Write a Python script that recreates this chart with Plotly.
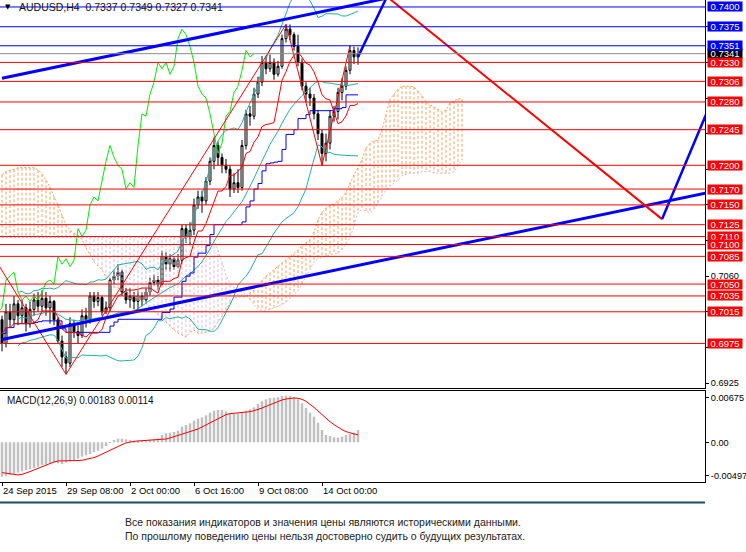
import plotly.graph_objects as go
import pandas as pd

# ---------------- data ----------------
bars = list(range(90))
closes = [0.6975, 0.7015, 0.7005, 0.7025, 0.7010, 0.7020, 0.7000, 0.7018, 0.7030, 0.7022,
          0.7032, 0.7020, 0.7028, 0.7005, 0.6978, 0.6958, 0.6950, 0.7000, 0.6990, 0.6985,
          0.7010, 0.7005, 0.7035, 0.7028, 0.7033, 0.7015, 0.7020, 0.7055, 0.7060, 0.7065,
          0.7040, 0.7030, 0.7035, 0.7028, 0.7035, 0.7030, 0.7040, 0.7052, 0.7055, 0.7050,
          0.7085, 0.7075, 0.7082, 0.7072, 0.7080, 0.7120, 0.7110, 0.7118, 0.7150, 0.7160,
          0.7155, 0.7180, 0.7205, 0.7225, 0.7210, 0.7200, 0.7195, 0.7170, 0.7178, 0.7172,
          0.7225, 0.7265, 0.7262, 0.7290, 0.7305, 0.7330, 0.7322, 0.7330, 0.7315, 0.7325,
          0.7360, 0.7372, 0.7365, 0.7350, 0.7330, 0.7300, 0.7290, 0.7285, 0.7265, 0.7240,
          0.7215, 0.7228, 0.7262, 0.7268, 0.7292, 0.7300, 0.7320, 0.7345, 0.7337, 0.7341]
highs = [0.7010, 0.7025, 0.7025, 0.7035, 0.7030, 0.7030, 0.7025, 0.7028, 0.7038, 0.7040,
         0.7042, 0.7040, 0.7035, 0.7030, 0.7008, 0.6985, 0.6965, 0.7008, 0.7005, 0.6998,
         0.7018, 0.7020, 0.7040, 0.7040, 0.7040, 0.7035, 0.7028, 0.7058, 0.7068, 0.7075,
         0.7068, 0.7045, 0.7045, 0.7040, 0.7042, 0.7040, 0.7045, 0.7058, 0.7062, 0.7060,
         0.7092, 0.7090, 0.7088, 0.7085, 0.7088, 0.7125, 0.7125, 0.7128, 0.7158, 0.7168,
         0.7168, 0.7185, 0.7210, 0.7235, 0.7230, 0.7215, 0.7208, 0.7200, 0.7190, 0.7195,
         0.7232, 0.7270, 0.7275, 0.7298, 0.7312, 0.7338, 0.7338, 0.7340, 0.7335, 0.7332,
         0.7365, 0.7378, 0.7378, 0.7368, 0.7365, 0.7335, 0.7305, 0.7298, 0.7290, 0.7270,
         0.7245, 0.7240, 0.7270, 0.7275, 0.7298, 0.7310, 0.7325, 0.7351, 0.7350, 0.7349]
lows = [0.6965, 0.6970, 0.6995, 0.7000, 0.6998, 0.7000, 0.6990, 0.6995, 0.7010, 0.7015,
        0.7015, 0.7010, 0.7000, 0.6998, 0.6975, 0.6945, 0.6936, 0.6945, 0.6982, 0.6975,
        0.6982, 0.6995, 0.7000, 0.7020, 0.7022, 0.7010, 0.7012, 0.7015, 0.7050, 0.7055,
        0.7035, 0.7025, 0.7020, 0.7018, 0.7015, 0.7022, 0.7025, 0.7035, 0.7048, 0.7042,
        0.7048, 0.7068, 0.7066, 0.7068, 0.7070, 0.7075, 0.7102, 0.7100, 0.7112, 0.7145,
        0.7140, 0.7150, 0.7175, 0.7195, 0.7200, 0.7190, 0.7190, 0.7160, 0.7165, 0.7165,
        0.7168, 0.7220, 0.7250, 0.7258, 0.7285, 0.7300, 0.7315, 0.7318, 0.7308, 0.7312,
        0.7322, 0.7355, 0.7358, 0.7345, 0.7325, 0.7295, 0.7280, 0.7275, 0.7258, 0.7232,
        0.7200, 0.7205, 0.7220, 0.7255, 0.7258, 0.7282, 0.7295, 0.7315, 0.7328, 0.7327]
first_open = 0.7005
opens = [first_open] + closes[:-1]

macd_hist = [-0.00515, -0.00505, -0.0049, -0.00475, -0.00455, -0.00435, -0.00415, -0.0040, -0.00385, -0.00365,
             -0.00345, -0.00335, -0.00315, -0.00305, -0.00315, -0.00325, -0.00305, -0.00285, -0.00265, -0.00245,
             -0.00215, -0.00195, -0.00175, -0.00145, -0.00125, -0.00095, -0.00055, -0.00005, 0.00035, 0.00055,
             0.00055, 0.00045, 0.00035, 0.0002, 0.00025, 0.0003, 0.00035, 0.0004, 0.00045, 0.00055,
             0.0011, 0.00135, 0.00145, 0.00155, 0.00175, 0.00235, 0.0026, 0.00285, 0.00325, 0.00355,
             0.00375, 0.00405, 0.00445, 0.00475, 0.00485, 0.00485, 0.00465, 0.00435, 0.00435, 0.00435,
             0.00455, 0.00475, 0.00495, 0.00525, 0.00575, 0.00615, 0.00645, 0.00665, 0.0067, 0.00675,
             0.00695, 0.0070, 0.00695, 0.00675, 0.00645, 0.00585, 0.00515, 0.00445, 0.00385, 0.00295,
             0.00185, 0.0011, 0.00095, 0.00075, 0.0007, 0.00085, 0.0011, 0.00125, 0.00145, 0.00183]
macd_signal = [-0.00455, -0.00465, -0.0048, -0.0049, -0.0049, -0.0048, -0.00465, -0.0044, -0.00415, -0.0039,
               -0.00365, -0.0034, -0.00315, -0.00295, -0.0028, -0.00275, -0.00275, -0.00275, -0.00275, -0.00275,
               -0.0027, -0.00255, -0.00245, -0.0023, -0.00205, -0.00175, -0.00145, -0.00115, -0.00085, -0.00055,
               -0.00035, -0.0001, 0.00005, 0.00015, 0.0002, 0.00025, 0.00025, 0.0003, 0.0003, 0.00035,
               0.0004, 0.0005, 0.00065, 0.00085, 0.0010, 0.0012, 0.0014, 0.00155, 0.00175, 0.0020,
               0.0023, 0.0026, 0.00295, 0.00325, 0.0036, 0.0039, 0.00415, 0.0043, 0.00435, 0.0044,
               0.00445, 0.0045, 0.0046, 0.00475, 0.0049, 0.00515, 0.0054, 0.00565, 0.0059, 0.00615,
               0.00635, 0.0065, 0.0066, 0.00665, 0.0066, 0.00645, 0.00615, 0.00575, 0.00525, 0.0047,
               0.00415, 0.0036, 0.0031, 0.00265, 0.00225, 0.0019, 0.0016, 0.0014, 0.00125, 0.00114]

cloud_bars = list(range(116))
span_a = [0.7188, 0.7192, 0.7194, 0.7195, 0.7197, 0.7197, 0.7197, 0.7197, 0.7197, 0.7194,
          0.7189, 0.7181, 0.7173, 0.7160, 0.7150, 0.7137, 0.7125, 0.7118, 0.7114, 0.7112,
          0.7106, 0.7096, 0.7087, 0.7078, 0.7073, 0.7068, 0.7058, 0.7050, 0.7046, 0.7045,
          0.7042, 0.7039, 0.7036, 0.7034, 0.7032, 0.7030, 0.7025, 0.7020, 0.7015, 0.7011,
          0.7007, 0.7002, 0.6996, 0.6992, 0.6988, 0.6986, 0.6983, 0.6989, 0.6992, 0.6988,
          0.6988, 0.6989, 0.6992, 0.6994, 0.7002, 0.7010, 0.7017, 0.7027, 0.7032, 0.7034,
          0.7034, 0.7034, 0.7039, 0.7042, 0.7049, 0.7055, 0.7060, 0.7064, 0.7068, 0.7073,
          0.7077, 0.7080, 0.7084, 0.7088, 0.7093, 0.7098, 0.7102, 0.7106, 0.7116, 0.7131,
          0.7141, 0.7146, 0.7149, 0.7151, 0.7155, 0.7159, 0.7166, 0.7178, 0.7188, 0.7197,
          0.7207, 0.7222, 0.7228, 0.7231, 0.7232, 0.7245, 0.7264, 0.7283, 0.7290, 0.7296,
          0.7300, 0.7300, 0.7300, 0.7299, 0.7294, 0.7288, 0.7280, 0.7276, 0.7274, 0.7271,
          0.7267, 0.7270, 0.7279, 0.7281, 0.7284, 0.7284]
span_b = [0.7109] * 53 + [
          0.7106, 0.7093, 0.7078, 0.7061, 0.7051, 0.7046, 0.7042, 0.7040, 0.7036, 0.7030,
          0.7024, 0.7018, 0.7017, 0.7017, 0.7018, 0.7020, 0.7021, 0.7024, 0.7027, 0.7032,
          0.7037, 0.7042, 0.7050, 0.7060, 0.7070, 0.7078, 0.7082, 0.7084, 0.7085, 0.7087,
          0.7088, 0.7089, 0.7093, 0.7101, 0.7108, 0.7123, 0.7141, 0.7144, 0.7142, 0.7140,
          0.7144, 0.7152, 0.7161, 0.7169, 0.7174, 0.7178, 0.7181, 0.7187, 0.7189, 0.7190,
          0.7190, 0.7190, 0.7192, 0.7192, 0.7192, 0.7190, 0.7190, 0.7190, 0.7190, 0.7190,
          0.7192, 0.7199, 0.7207]

blue_levels = [0.7400, 0.7375, 0.7351]
red_levels = [0.7330, 0.7306, 0.7280, 0.7245, 0.7200, 0.7170, 0.7150, 0.7125,
              0.7110, 0.7100, 0.7085, 0.7050, 0.7035, 0.7015, 0.6975]
bid_level = 0.7341

price_ticks = [0.6925, 0.6970, 0.7015, 0.7060, 0.7105, 0.7150, 0.7195, 0.7240, 0.7285, 0.7330, 0.7375]
price_tick_text = ["0.6925", "", "", "0.7060", "", "", "", "", "", "", ""]
macd_ticks = [0.00675, 0.0, -0.00497]
macd_tick_text = ["0.00675", "0.00", "-0.00497"]
date_tick_bars = [0, 16, 32, 48, 64, 80]
date_tick_labels = ["24 Sep 2015", "29 Sep 08:00", "2 Oct 00:00", "6 Oct 16:00", "9 Oct 08:00", "14 Oct 00:00"]

channel_bars = [0, 176]
channel_upper = [0.7310, 0.7495]
channel_lower = [0.6980, 0.7165]
zigzag_bars = [-5, 16, 71, 80, 87]
zigzag_prices = [0.7108, 0.6936, 0.7378, 0.7200, 0.7351]
forecast_bars = [89, 96.25, 165, 179.5]
forecast_prices = [0.7337, 0.7413, 0.7132, 0.7306]

title_text = "AUDUSD,H4  0.7337 0.7349 0.7327 0.7341"
macd_text = "MACD(12,26,9) 0.00183 0.00114"
disclaimer = ["Все показания индикаторов и значения цены являются историческими данными.",
              "По прошлому поведению цены нельзя достоверно судить о будущих результатах."]

# ---------------- indicators derived from the candles ----------------
sh, sl, sc = pd.Series(highs), pd.Series(lows), pd.Series(closes)
tenkan = (sh.rolling(9, min_periods=1).max() + sl.rolling(9, min_periods=1).min()) / 2
kijun = (sh.rolling(26, min_periods=1).max() + sl.rolling(26, min_periods=1).min()) / 2
bb_mid = sc.rolling(20, min_periods=5).mean()
bb_std = sc.rolling(20, min_periods=5).std(ddof=0)
bb_up = bb_mid + 2 * bb_std
bb_dn = bb_mid - 2 * bb_std
chikou_x = [b - 26 for b in bars]

# ---------------- figure ----------------
FONT = "Liberation Sans"
RED = "#FF0000"
BLUE = "#0000FF"
ORANGE = "#F4A460"
THISTLE = "#D8BFD8"
SEA = "#20B2AA"

fig = go.Figure()

ox, oy, tx, ty = [], [], [], []
for b, a, s in zip(cloud_bars, span_a, span_b):
    if a >= s:
        ox += [b, b, None]; oy += [a, s, None]
    else:
        tx += [b, b, None]; ty += [a, s, None]
fig.add_trace(go.Scatter(x=tx, y=ty, mode="lines", line=dict(color=THISTLE, width=1, dash="3px,2px")))
fig.add_trace(go.Scatter(x=ox, y=oy, mode="lines", line=dict(color=ORANGE, width=1, dash="3px,2px")))
fig.add_trace(go.Scatter(x=cloud_bars, y=span_b, mode="lines", line=dict(color=THISTLE, width=1, dash="2px,2px")))
fig.add_trace(go.Scatter(x=cloud_bars, y=span_a, mode="lines", line=dict(color=ORANGE, width=1, dash="2px,2px")))

for band in (bb_up, bb_mid, bb_dn):
    fig.add_trace(go.Scatter(x=bars, y=band, mode="lines", line=dict(color=SEA, width=1)))
fig.add_trace(go.Scatter(x=bars, y=kijun, mode="lines", line=dict(color=BLUE, width=1, shape="hv")))
fig.add_trace(go.Scatter(x=bars, y=tenkan, mode="lines", line=dict(color=RED, width=1)))
fig.add_trace(go.Scatter(x=chikou_x, y=closes, mode="lines", line=dict(color="#00EE00", width=1)))

fig.add_trace(go.Candlestick(
    x=bars, open=opens, high=highs, low=lows, close=closes,
    increasing=dict(line=dict(color="black", width=1), fillcolor="white"),
    decreasing=dict(line=dict(color="black", width=1), fillcolor="black"),
    whiskerwidth=0))

fig.add_trace(go.Scatter(x=zigzag_bars, y=zigzag_prices, mode="lines", line=dict(color=RED, width=1)))
fig.add_trace(go.Scatter(x=channel_bars, y=channel_upper, mode="lines", line=dict(color=BLUE, width=3)))
fig.add_trace(go.Scatter(x=channel_bars, y=channel_lower, mode="lines", line=dict(color=BLUE, width=3)))
fig.add_trace(go.Scatter(x=forecast_bars[0:2], y=forecast_prices[0:2], mode="lines", line=dict(color=BLUE, width=2.5)))
fig.add_trace(go.Scatter(x=forecast_bars[1:3], y=forecast_prices[1:3], mode="lines", line=dict(color=RED, width=2)))
fig.add_trace(go.Scatter(x=forecast_bars[2:4], y=forecast_prices[2:4], mode="lines", line=dict(color=BLUE, width=2.5)))

fig.add_trace(go.Bar(x=bars, y=macd_hist, marker=dict(color="#C0C0C0", line=dict(width=0)),
                     width=0.62, xaxis="x2", yaxis="y2"))
fig.add_trace(go.Scatter(x=bars, y=macd_signal, mode="lines", line=dict(color=RED, width=1),
                         xaxis="x2", yaxis="y2"))

shapes = []
for lv in red_levels:
    shapes.append(dict(type="line", xref="paper", x0=0, x1=1, yref="y", y0=lv, y1=lv,
                       line=dict(color=RED, width=1), layer="above"))
for lv in blue_levels:
    shapes.append(dict(type="line", xref="paper", x0=0, x1=1, yref="y", y0=lv, y1=lv,
                       line=dict(color=BLUE, width=1), layer="above"))
shapes.append(dict(type="line", xref="paper", x0=0, x1=1, yref="y", y0=bid_level, y1=bid_level,
                   line=dict(color="#8C8C8C", width=1), layer="above"))
shapes.append(dict(type="line", xref="paper", x0=0, x1=1, yref="paper", y0=-0.0425, y1=-0.0425,
                   line=dict(color="#1B4A5E", width=2)))

ann = []
def price_label(val, color):
    ann.append(dict(xref="paper", x=1.0035, xanchor="left", yref="y", y=val, yanchor="middle",
                    text=f"{val:.4f}", showarrow=False, bgcolor=color, width=34, height=9,
                    borderpad=0, font=dict(family=FONT, size=9.5, color="white")))
price_label(bid_level, "black")
for lv in blue_levels:
    price_label(lv, BLUE)
for lv in red_levels:
    price_label(lv, RED)

ann.append(dict(xref="paper", x=0.0045, xanchor="left", yref="paper", y=0.9855, yanchor="middle",
                text="▼", showarrow=False, font=dict(family="DejaVu Sans", size=7, color="black")))
ann.append(dict(xref="paper", x=0.0235, xanchor="left", yref="paper", y=0.9855, yanchor="middle",
                text=title_text, showarrow=False, font=dict(family=FONT, size=10.5, color="#111111")))
ann.append(dict(xref="paper", x=0.0065, xanchor="left", yref="paper", y=0.1701, yanchor="middle",
                text=macd_text, showarrow=False, font=dict(family=FONT, size=10, color="#111111")))
for k, line in enumerate(disclaimer):
    ann.append(dict(xref="paper", x=0.1745, xanchor="left", yref="paper", y=-0.083 - k * 0.0285,
                    yanchor="middle", text=line, showarrow=False,
                    font=dict(family=FONT, size=10.5, color="#222222")))

xr = [-0.5, 175.75]
fig.update_layout(
    width=746, height=552,
    margin=dict(l=0, r=41, t=0, b=70, autoexpand=False),
    paper_bgcolor="white", plot_bgcolor="white",
    showlegend=False,
    font=dict(family=FONT, size=9.5, color="black"),
    shapes=shapes, annotations=ann,
    xaxis=dict(domain=[0, 1], range=xr, anchor="y", showticklabels=False, ticks="",
               showgrid=False, zeroline=False, showline=True, linecolor="black", linewidth=1,
               rangeslider=dict(visible=False), matches="x2", automargin=False),
    yaxis=dict(domain=[0.195, 1], range=[0.69187, 0.74088], side="right", anchor="x",
               tickvals=price_ticks, ticktext=price_tick_text, tickfont=dict(size=9.2),
               ticks="outside", ticklen=3, tickcolor="black", showgrid=False, zeroline=False,
               showline=True, linecolor="black", linewidth=1, automargin=False),
    xaxis2=dict(domain=[0, 1], range=xr, anchor="y2", tickvals=date_tick_bars,
                ticktext=date_tick_labels, ticks="outside", ticklen=3, tickcolor="black",
                tickangle=0, ticklabelposition="outside right", showgrid=False, zeroline=False,
                showline=True, mirror=True, linecolor="black", linewidth=1, automargin=False),
    yaxis2=dict(domain=[0, 0.1888], range=[-0.005955, 0.0077], side="right", anchor="x2",
                tickvals=macd_ticks, ticktext=macd_tick_text, ticks="outside", ticklen=3,
                tickfont=dict(size=9.2), tickcolor="black", showgrid=False, zeroline=False,
                showline=True, mirror=True, linecolor="black", linewidth=1, automargin=False),
)

fig.write_html("out.html", config={"displayModeBar": False},
               post_script="document.body.style.margin='0';")
